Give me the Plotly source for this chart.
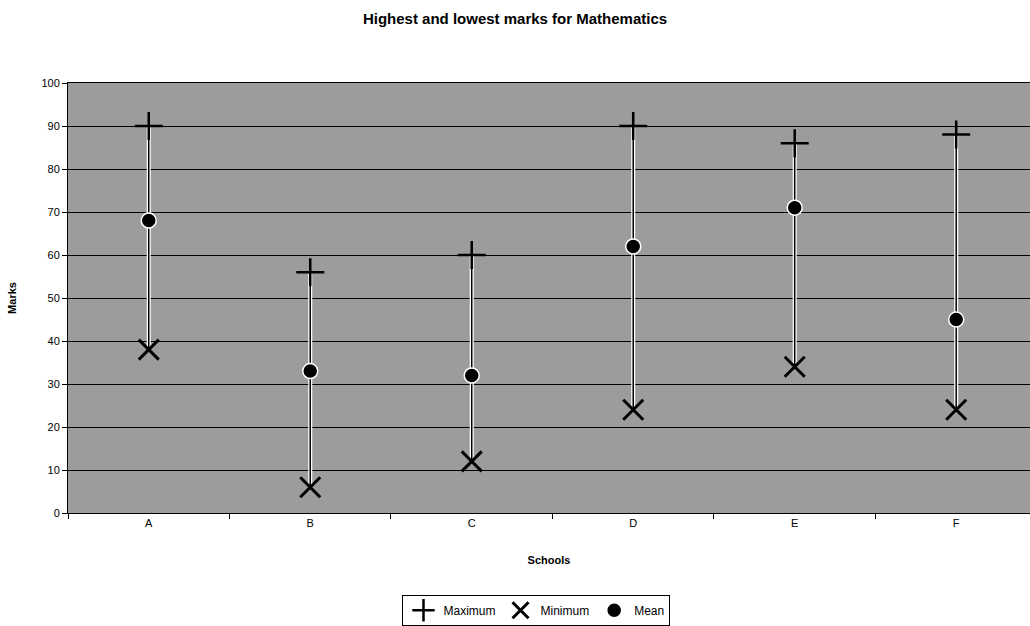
import plotly.graph_objects as go

schools = ["A", "B", "C", "D", "E", "F"]
maximum = [90, 56, 60, 90, 86, 88]
minimum = [38, 6, 12, 24, 34, 24]
mean = [68, 33, 32, 62, 71, 45]

# high-low connector lines built from data
lx, ly = [], []
for s, hi, lo in zip(schools, maximum, minimum):
    lx += [s, s, None]
    ly += [hi, lo, None]

fig = go.Figure()
fig.add_trace(go.Scatter(x=lx, y=ly, mode="lines", line=dict(color="white", width=4),
                         showlegend=False, hoverinfo="skip"))
fig.add_trace(go.Scatter(x=lx, y=ly, mode="lines", line=dict(color="black", width=1.5),
                         showlegend=False, hoverinfo="skip"))
fig.add_trace(go.Scatter(x=schools, y=maximum, mode="markers", name="Maximum",
                         marker=dict(symbol="cross-thin-open", size=20, color="black",
                                     line=dict(color="black", width=2.5))))
fig.add_trace(go.Scatter(x=schools, y=minimum, mode="markers", name="Minimum",
                         marker=dict(symbol="x-thin-open", size=20, color="black",
                                     line=dict(color="black", width=3))))
fig.add_trace(go.Scatter(x=schools, y=mean, mode="markers", name="Mean",
                         marker=dict(symbol="circle", size=15, color="black",
                                     line=dict(color="white", width=1.5))))

fig.update_layout(
    width=1030, height=626,
    margin=dict(l=68, r=0, t=83, b=111),
    paper_bgcolor="white",
    plot_bgcolor="#9c9c9c",
    font=dict(family="Liberation Sans, Arial, sans-serif", color="black", size=11),
    title=dict(text="<b>Highest and lowest marks for Mathematics</b>", x=0.5, xanchor="center",
               y=0.97, yanchor="middle", font=dict(size=15)),
    xaxis=dict(title=dict(text="<b>Schools</b>", font=dict(size=11), standoff=28),
               range=[-0.5, 5.457], showgrid=False, showline=True, linecolor="black",
               linewidth=1, ticks="outside", tickson="boundaries", ticklen=5,
               tickcolor="black", zeroline=False, mirror=True),
    yaxis=dict(title=dict(text="<b>Marks</b>", font=dict(size=11), standoff=22),
               range=[0, 100], dtick=10, showgrid=True, gridcolor="black", gridwidth=1,
               showline=True, linecolor="black", linewidth=1, ticks="outside", ticklen=5,
               tickcolor="black", zeroline=False, mirror=True, tickfont=dict(size=11)),
    legend=dict(orientation="h", x=0.487, xanchor="center", y=-0.19, yanchor="top",
                bordercolor="black", borderwidth=1, bgcolor="white",
                font=dict(size=12), itemwidth=30, tracegroupgap=0),
)

fig.write_html("out.html")
